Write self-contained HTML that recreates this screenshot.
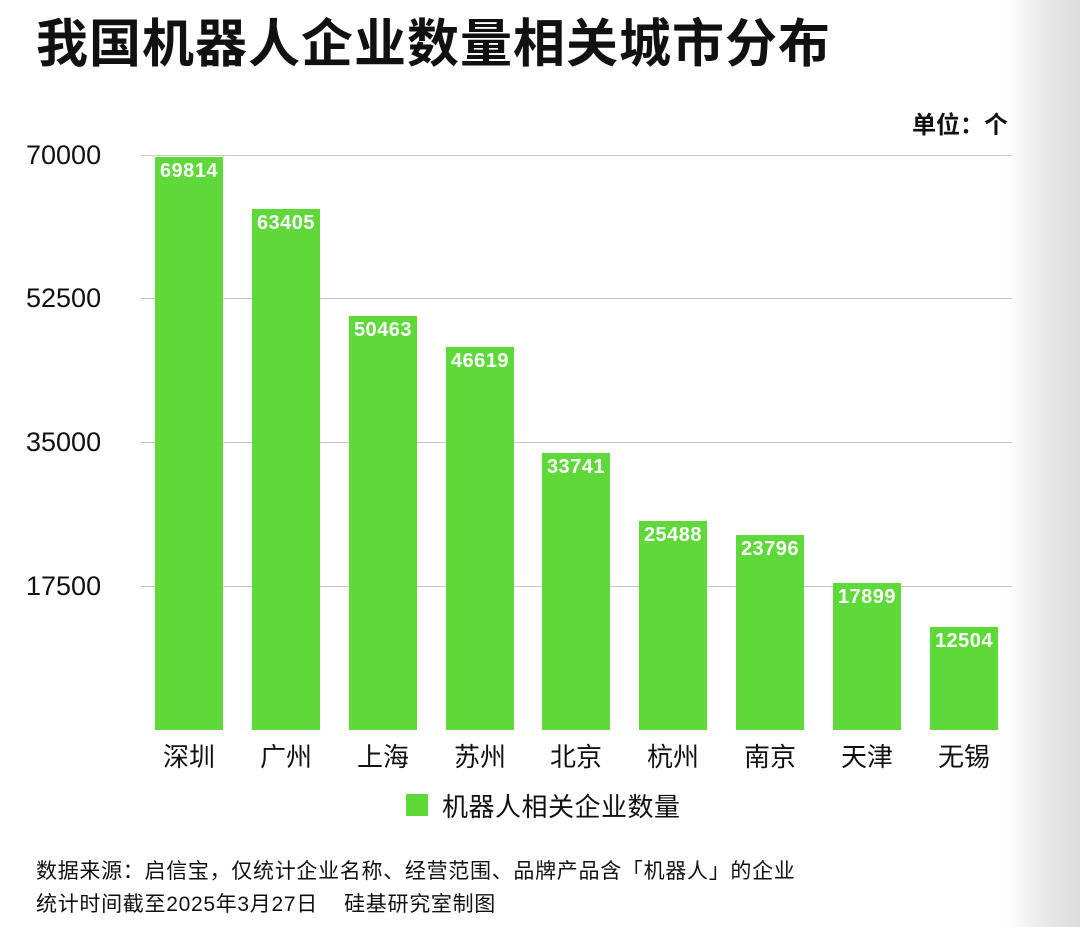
<!DOCTYPE html><html><head><meta charset="utf-8"><style>
body{margin:0;width:1080px;height:927px;position:relative;background:#fff;overflow:hidden;font-family:"Liberation Sans","Noto Sans CJK SC",sans-serif;color:#111}
.a{position:absolute}
.g{position:absolute;left:141px;width:871px;height:1px;background:#c8c8c8}
.y{position:absolute;left:26px;font-size:27px;width:100px}
.b{position:absolute;width:68px;background:#5fd83a;bottom:197px}
.v{position:absolute;top:3px;left:-6px;width:80px;text-align:center;color:#fff;font-weight:bold;font-size:20px;letter-spacing:0.5px}
.x{position:absolute;top:737px;width:100px;text-align:center;font-size:26px}
</style></head><body>
<div class="a" style="left:1005px;top:0;width:75px;height:927px;background:linear-gradient(to right,#fff,#e6e6e6 60%,#dcdcdc)"></div>
<div class="a" style="left:36px;top:2px;font-size:52px;font-weight:bold;letter-spacing:1px;white-space:nowrap">我国机器人企业数量相关城市分布</div>
<div class="a" style="left:912px;top:105px;font-size:24px;font-weight:bold">单位：个</div>
<div class="g" style="top:155px"></div><div class="g" style="top:298px"></div><div class="g" style="top:442px"></div><div class="g" style="top:586px"></div>
<div class="y" style="top:140px">70000</div><div class="y" style="top:283px">52500</div><div class="y" style="top:427px">35000</div><div class="y" style="top:571px">17500</div>
<div class="b" style="left:155px;height:573px"><div class="v">69814</div></div>
<div class="b" style="left:252px;height:521px"><div class="v">63405</div></div>
<div class="b" style="left:349px;height:414px"><div class="v">50463</div></div>
<div class="b" style="left:446px;height:383px"><div class="v">46619</div></div>
<div class="b" style="left:542px;height:277px"><div class="v">33741</div></div>
<div class="b" style="left:639px;height:209px"><div class="v">25488</div></div>
<div class="b" style="left:736px;height:195px"><div class="v">23796</div></div>
<div class="b" style="left:833px;height:147px"><div class="v">17899</div></div>
<div class="b" style="left:930px;height:103px"><div class="v">12504</div></div>
<div class="x" style="left:139px">深圳</div><div class="x" style="left:236px">广州</div><div class="x" style="left:333px">上海</div><div class="x" style="left:430px">苏州</div><div class="x" style="left:526px">北京</div><div class="x" style="left:623px">杭州</div><div class="x" style="left:720px">南京</div><div class="x" style="left:817px">天津</div><div class="x" style="left:914px">无锡</div>
<div class="a" style="left:406px;top:794px;width:22px;height:22px;background:#5fd83a"></div>
<div class="a" style="left:442px;top:787px;font-size:26px;letter-spacing:0.5px;white-space:nowrap">机器人相关企业数量</div>
<div class="a" style="left:36px;top:855px;font-size:21px;letter-spacing:0.7px;line-height:33px;white-space:nowrap">数据来源：启信宝，仅统计企业名称、经营范围、品牌产品含「机器人」的企业<br>统计时间截至2025年3月27日&nbsp;&nbsp;&nbsp;&nbsp;硅基研究室制图</div>
</body></html>
